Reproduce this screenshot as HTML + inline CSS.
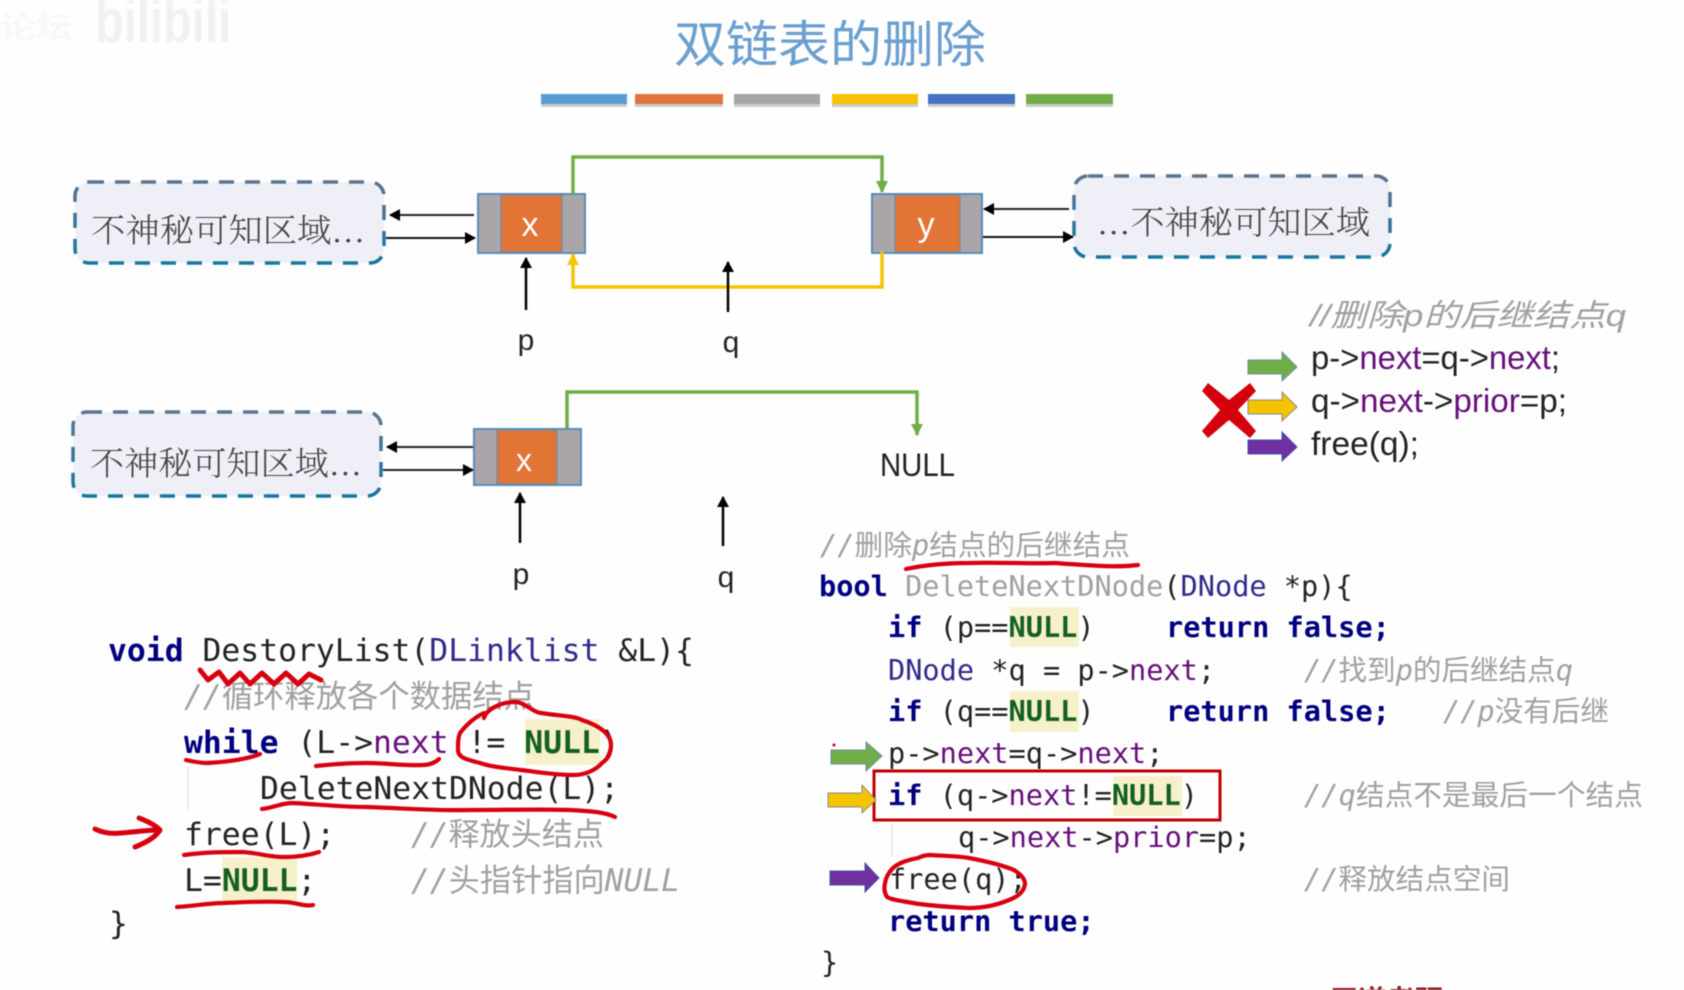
<!DOCTYPE html>
<html><head><meta charset="utf-8"><style>
html,body{margin:0;padding:0;background:#fefefe;width:1684px;height:990px;overflow:hidden}
svg{display:block;filter:blur(.6px)}
text{white-space:pre}
.cjk{font-family:"Liberation Sans","Noto Sans CJK SC",sans-serif}
.box{font-family:"Noto Serif CJK SC","Noto Sans CJK SC",serif;font-size:33px;fill:#444;font-weight:300}
.sans{font-family:"Liberation Sans","Noto Sans CJK SC",sans-serif;fill:#222}
.l{font-family:"DejaVu Sans Mono","Noto Sans CJK SC",monospace;font-size:31.4px;fill:#222}
.r{font-family:"DejaVu Sans Mono","Noto Sans CJK SC",monospace;font-size:28.6px;fill:#222}
.c{font-style:italic;fill:#a0a0a0}
.z{font-style:normal;font-family:"Noto Sans CJK SC",sans-serif;fill:#a0a0a0}
.k{font-weight:bold;fill:#000080}
.t{fill:#2f2a8c}
.n{fill:#660e7a}
.u{font-weight:bold;fill:#14601f}
.g{fill:#a0a0a0}
.red{fill:none;stroke:#d8000f;stroke-width:4.2;stroke-linecap:round;stroke-linejoin:round}
.dash{fill:#eff0f7;stroke:url(#ds);stroke-width:3.5;stroke-dasharray:15 11}
</style></head><body>
<svg width="1684" height="990" viewBox="0 0 1684 990" xmlns="http://www.w3.org/2000/svg">
<defs>
<linearGradient id="ds" x1="0" y1="0" x2="0" y2="1"><stop offset="0" stop-color="#5a7590"/><stop offset="1" stop-color="#16779f"/></linearGradient>
<marker id="b" markerUnits="userSpaceOnUse" markerWidth="12" markerHeight="12" refX="10" refY="6" orient="auto"><path d="M0 0L11 6L0 12z" fill="#000"/></marker>
<marker id="gr" markerUnits="userSpaceOnUse" markerWidth="12" markerHeight="14" refX="11" refY="7" orient="auto"><path d="M0 1L12 7L0 13z" fill="#70ad47"/></marker>
<marker id="ye" markerUnits="userSpaceOnUse" markerWidth="12" markerHeight="14" refX="11" refY="7" orient="auto"><path d="M0 1L12 7L0 13z" fill="#f5c400"/></marker>
</defs>

<text x="0" y="38" font-family="Noto Sans CJK SC,sans-serif" font-size="30" font-weight="bold" fill="#f8f8f8" textLength="72" lengthAdjust="spacingAndGlyphs">论坛</text>
<text x="95" y="42" font-family="Liberation Sans,sans-serif" font-size="62" font-weight="bold" fill="#f1f1f1" textLength="136" lengthAdjust="spacingAndGlyphs">bilibili</text>

<text x="674" y="62" font-family="Noto Sans CJK SC,sans-serif" font-size="50" fill="#6a9fd0" textLength="312" lengthAdjust="spacingAndGlyphs">双链表的删除</text>
<g>
<rect x="541" y="97" width="86" height="10" fill="#ccc"/><rect x="635" y="97" width="88" height="10" fill="#ccc"/><rect x="734" y="97" width="86" height="10" fill="#ccc"/><rect x="832" y="97" width="86" height="10" fill="#ccc"/><rect x="928" y="97" width="87" height="10" fill="#ccc"/><rect x="1026" y="97" width="87" height="10" fill="#ccc"/>
<rect x="541" y="94" width="86" height="10" fill="#5b9bd5"/>
<rect x="635" y="94" width="88" height="10" fill="#e0733a"/>
<rect x="734" y="94" width="86" height="10" fill="#a5a5a5"/>
<rect x="832" y="94" width="86" height="10" fill="#f6c200"/>
<rect x="928" y="94" width="87" height="10" fill="#4472c4"/>
<rect x="1026" y="94" width="87" height="10" fill="#70ad47"/>
</g>

<!-- top left box -->
<rect class="dash" x="75" y="182" width="309" height="81" rx="14"/>
<text class="box" x="91" y="242" textLength="274" lengthAdjust="spacingAndGlyphs">不神秘可知区域...</text>
<line x1="474" y1="215" x2="390" y2="215" stroke="#222" stroke-width="2" marker-end="url(#b)"/>
<line x1="386" y1="238" x2="475" y2="238" stroke="#111" stroke-width="2" marker-end="url(#b)"/>
<!-- node x -->
<rect x="478" y="194" width="107" height="59" fill="#a9a5a8" stroke="#5b8db8" stroke-width="2"/>
<rect x="501" y="195" width="61" height="57" fill="#e27435" stroke="#5b8db8" stroke-width="1"/>
<text x="530" y="236" text-anchor="middle" font-family="Liberation Sans,sans-serif" font-size="34" fill="#fff">x</text>
<!-- node y -->
<rect x="872" y="194" width="110" height="59" fill="#a9a5a8" stroke="#5b8db8" stroke-width="2"/>
<rect x="895" y="195" width="65" height="57" fill="#e27435" stroke="#5b8db8" stroke-width="1"/>
<text x="926" y="236" text-anchor="middle" font-family="Liberation Sans,sans-serif" font-size="34" fill="#fff">y</text>
<!-- green / yellow -->
<path d="M573 194V157H882V192" fill="none" stroke="#70ad47" stroke-width="3.5" marker-end="url(#gr)"/>
<path d="M882 252V287H573V254" fill="none" stroke="#f5c400" stroke-width="3.5" marker-end="url(#ye)"/>
<line x1="526" y1="310" x2="526" y2="258" stroke="#000" stroke-width="2.5" marker-end="url(#b)"/>
<line x1="728" y1="312" x2="728" y2="262" stroke="#000" stroke-width="2.5" marker-end="url(#b)"/>
<text class="sans" x="526" y="350" text-anchor="middle" font-size="30">p</text>
<text class="sans" x="731" y="352" text-anchor="middle" font-size="30">q</text>
<!-- top right box -->
<rect class="dash" x="1074" y="176" width="316" height="81" rx="14"/>
<text class="box" x="1097" y="234" textLength="273" lengthAdjust="spacingAndGlyphs">...不神秘可知区域</text>
<line x1="1069" y1="209" x2="984" y2="209" stroke="#222" stroke-width="2" marker-end="url(#b)"/>
<line x1="983" y1="237" x2="1073" y2="237" stroke="#111" stroke-width="2" marker-end="url(#b)"/>

<!-- second row -->
<rect class="dash" x="73" y="412" width="308" height="84" rx="14"/>
<text class="box" x="90" y="475" textLength="272" lengthAdjust="spacingAndGlyphs">不神秘可知区域...</text>
<line x1="473" y1="447" x2="387" y2="447" stroke="#222" stroke-width="2" marker-end="url(#b)"/>
<line x1="383" y1="470" x2="473" y2="470" stroke="#222" stroke-width="2" marker-end="url(#b)"/>
<rect x="474" y="429" width="107" height="56" fill="#a9a5a8" stroke="#5b8db8" stroke-width="2"/>
<rect x="497" y="430" width="60" height="54" fill="#e27435" stroke="#5b8db8" stroke-width="1"/>
<text x="524" y="471" text-anchor="middle" font-family="Liberation Sans,sans-serif" font-size="32" fill="#fff">x</text>
<path d="M567 428V392H917V435" fill="none" stroke="#70ad47" stroke-width="3.5" marker-end="url(#gr)"/>
<text class="sans" x="880" y="476" font-size="32" textLength="75" lengthAdjust="spacingAndGlyphs">NULL</text>
<line x1="520" y1="543" x2="520" y2="493" stroke="#000" stroke-width="2.5" marker-end="url(#b)"/>
<line x1="723" y1="546" x2="723" y2="497" stroke="#000" stroke-width="2.5" marker-end="url(#b)"/>
<text class="sans" x="521" y="584" text-anchor="middle" font-size="30">p</text>
<text class="sans" x="726" y="587" text-anchor="middle" font-size="30">q</text>

<!-- right snippet -->
<text class="cjk c" x="1310" y="326" font-size="31" textLength="316" lengthAdjust="spacingAndGlyphs">//删除p的后继结点q</text>
<text class="sans" x="1311" y="369" font-size="33" textLength="249" lengthAdjust="spacingAndGlyphs">p-&gt;<tspan class="n">next</tspan>=q-&gt;<tspan class="n">next</tspan>;</text>
<text class="sans" x="1311" y="412" font-size="33" textLength="256" lengthAdjust="spacingAndGlyphs">q-&gt;<tspan class="n">next</tspan>-&gt;<tspan class="n">prior</tspan>=p;</text>
<text class="sans" x="1311" y="455" font-size="33" textLength="108" lengthAdjust="spacingAndGlyphs">free(q);</text>
<path d="M1248 360H1282V352L1297 367L1282 381V374H1248z" fill="#70ad47" stroke="#6f8fa8"/>
<path d="M1248 400H1282V392L1297 407L1282 421V414H1248z" fill="#f5c400" stroke="#8a8a8a"/>
<path d="M1248 440H1282V432L1297 447L1282 461V454H1248z" fill="#7030a0" stroke="#3f55a8"/>
<path d="M1208 383L1229 400L1250 383L1256 391L1238 410L1256 431L1250 438L1229 420L1208 438L1202 431L1220 410L1202 391z" fill="#d4000c"/>

<!-- left code -->
<rect x="525" y="719" width="75" height="46" fill="#f6f1cb"/>
<rect x="222" y="857" width="75" height="45" fill="#f6f1cb"/>
<line x1="188" y1="767" x2="188" y2="810" stroke="#e8e8e8" stroke-width="1.5"/>
<text class="l" x="108" y="661"><tspan class="k">void</tspan> DestoryList(<tspan class="t">DLinklist</tspan> &amp;L){</text>
<text class="l c" x="184" y="707" textLength="351" lengthAdjust="spacingAndGlyphs">//<tspan class="z">循环释放各个数据结点</tspan></text>
<text class="l" x="184" y="753"><tspan class="k">while</tspan> (L-&gt;<tspan class="n">next</tspan> != <tspan class="u">NULL</tspan>)</text>
<text class="l" x="260" y="799">DeleteNextDNode(L);</text>
<text class="l" x="184" y="845">free(L);</text>
<text class="l c" x="411" y="845" textLength="193" lengthAdjust="spacingAndGlyphs">//<tspan class="z">释放头结点</tspan></text>
<text class="l" x="184" y="891">L=<tspan class="u">NULL</tspan>;</text>
<text class="l c" x="411" y="891" textLength="269" lengthAdjust="spacingAndGlyphs">//<tspan class="z">头指针指向</tspan>NULL</text>
<text class="l" x="109" y="934">}</text>

<!-- right code -->
<rect x="1010" y="607" width="69" height="40" fill="#f6f1cb"/>
<rect x="1010" y="691" width="69" height="41" fill="#f6f1cb"/>
<rect x="1113" y="776" width="69" height="40" fill="#f6f1cb"/>
<line x1="892" y1="823" x2="892" y2="857" stroke="#e8e8e8" stroke-width="1.5"/>
<text class="r c" x="820" y="555" textLength="310" lengthAdjust="spacingAndGlyphs">//<tspan class="z">删除</tspan>p<tspan class="z">结点的后继结点</tspan></text>
<text class="r" x="819" y="596"><tspan class="k">bool</tspan> <tspan class="g">DeleteNextDNode</tspan>(<tspan class="t">DNode</tspan> *p){</text>
<text class="r" x="888" y="637"><tspan class="k">if</tspan> (p==<tspan class="u">NULL</tspan>)</text>
<text class="r k" x="1166" y="637">return false;</text>
<text class="r" x="888" y="680"><tspan class="t">DNode</tspan> *q = p-&gt;<tspan class="n">next</tspan>;</text>
<text class="r c" x="1304" y="680" textLength="269" lengthAdjust="spacingAndGlyphs">//<tspan class="z">找到</tspan>p<tspan class="z">的后继结点</tspan>q</text>
<text class="r" x="888" y="721"><tspan class="k">if</tspan> (q==<tspan class="u">NULL</tspan>)</text>
<text class="r k" x="1166" y="721">return false;</text>
<text class="r c" x="1443" y="721" textLength="166" lengthAdjust="spacingAndGlyphs">//p<tspan class="z">没有后继</tspan></text>
<text class="r" x="888" y="763">p-&gt;<tspan class="n">next</tspan>=q-&gt;<tspan class="n">next</tspan>;</text>
<text class="r" x="888" y="805"><tspan class="k">if</tspan> (q-&gt;<tspan class="n">next</tspan>!=<tspan class="u">NULL</tspan>)</text>
<text class="r c" x="1304" y="805" textLength="339" lengthAdjust="spacingAndGlyphs">//q<tspan class="z">结点不是最后一个结点</tspan></text>
<text class="r" x="958" y="847">q-&gt;<tspan class="n">next</tspan>-&gt;<tspan class="n">prior</tspan>=p;</text>
<text class="r" x="889" y="889">free(q);</text>
<text class="r c" x="1304" y="889" textLength="206" lengthAdjust="spacingAndGlyphs">//<tspan class="z">释放结点空间</tspan></text>
<text class="r k" x="888" y="931">return true;</text>
<text class="r" x="821" y="972">}</text>

<rect x="874" y="771" width="346" height="49" fill="none" stroke="#c00000" stroke-width="3"/>
<path d="M831 750H866V742L882 756L866 771V764H831z" fill="#70ad47" stroke="#6f8fa8"/>
<path d="M828 793H862V785L876 800L862 813V807H828z" fill="#f5c400" stroke="#8a8a8a"/>
<path d="M830 871H865V863L879 878L865 892V885H830z" fill="#7030a0" stroke="#3f55a8"/>
<circle cx="834" cy="745" r="1.5" fill="#d8000f"/>

<!-- red pen -->
<path class="red" style="stroke-width:5" d="M200 670L208 680L219 672L228 684L240 673L250 684L262 673L274 684L286 673L298 684L309 674L321 680"/>
<path class="red" d="M484 718C486 710 500 702 515 702C525 702 532 712 541 713C560 716 575 716 582 720C600 726 611 734 611 745C611 756 606 760 602 763C596 770 585 775 574 775C555 775 538 772 521 770C505 768 492 767 480 763C468 760 458 758 458 750C458 742 458 738 460 733C466 725 475 717 484 713"/>
<path class="red" d="M186 760C195 762 200 763 207 763C225 762 245 760 260 754"/>
<path class="red" d="M316 766C335 764 350 763 366 763C385 763 405 766 423 765C430 765 436 762 439 759"/>
<path class="red" d="M262 809C272 808 282 803 292 803C315 804 340 807 366 807C400 808 435 811 468 810C505 810 540 809 570 810C590 811 605 812 615 817"/>
<path class="red" style="stroke-width:5" d="M95 829C103 833 112 834 121 833C135 832 148 830 158 830M139 818C147 821 155 825 160 830C155 838 145 843 135 847"/>
<path class="red" d="M184 855C205 852 225 852 243 852C258 853 270 857 284 857C298 857 310 855 319 852"/>
<path class="red" d="M177 907C195 906 210 903 223 903C245 902 265 901 284 902C295 902 305 907 313 905"/>
<path class="red" d="M906 569C925 565 945 563 969 563C1000 562 1030 564 1054 563C1085 565 1115 568 1138 565"/>
<path class="red" d="M893 868C900 862 908 860 918 858C922 856 926 855 930 855C945 856 958 856 969 858C985 861 1002 865 1014 870C1022 875 1025 880 1025 884C1024 892 1017 897 1009 900C997 905 983 908 969 908C950 907 930 906 913 903C902 901 892 900 887 897C884 892 884 888 885 883C886 877 889 872 893 868"/>

<text x="1330" y="1010" font-family="Liberation Sans,'Noto Sans CJK SC',sans-serif" font-size="28" font-weight="bold" fill="#8b1a22" textLength="354" lengthAdjust="spacingAndGlyphs">王道考研/CSKAOYAN.COM</text>
</svg>
</body></html>
